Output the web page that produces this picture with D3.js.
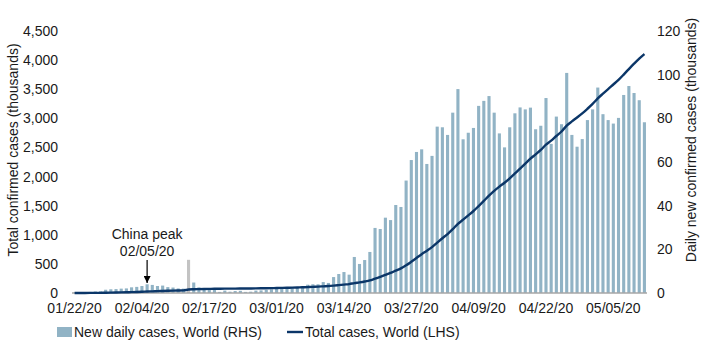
<!DOCTYPE html>
<html><head><meta charset="utf-8">
<script src="https://cdn.jsdelivr.net/npm/d3@7"></script>
<style>
html,body{margin:0;padding:0;background:#fff;}
text{font-family:"Liberation Sans",Arial,sans-serif;}
</style></head>
<body><svg id="c" width="701" height="360"></svg>
<script>
// Categories: daily dates 01/22/20 .. 05/11/20
const dates = d3.timeDay.range(new Date(2020,0,22), new Date(2020,4,12));
const tickLabels = ["01/22/20","02/04/20","02/17/20","03/01/20","03/14/20","03/27/20","04/09/20","04/22/20","05/05/20"];
const leftTicks = [0,500,1000,1500,2000,2500,3000,3500,4000,4500];
const rightTicks = [0,20,40,60,80,100,120];
// New daily cases, World (thousands) - RHS
const dailyNew = [
 0.1,0.1,0.3,0.5,0.7,0.8,1.5,1.7,1.8,2.0,
 2.1,2.6,2.8,3.2,4.0,3.7,3.2,3.4,2.7,2.5,
 2.1,2.0,15.2,4.8,2.6,2.1,2.0,1.9,0.5,1.1,
 0.6,0.9,1.0,0.5,0.6,1.1,1.2,1.4,1.7,2.0,
 2.0,2.3,2.3,2.7,3.0,3.8,4.0,4.0,5.0,4.6,
 7.3,8.7,9.6,8.4,16.5,13.3,15.1,18.8,29.8,29.3,
 34.5,33.4,40.3,39.4,51.5,60.9,64.6,65.8,59.1,62.8,
 76.2,75.9,72.4,82.6,93.4,70.4,73.4,75.6,85.7,88.0,
 90.2,82.6,73.1,66.7,75.9,82.3,85.0,84.1,84.9,75.0,
 76.6,89.3,68.3,80.8,77.3,100.8,72.4,67.0,70.5,79.2,
 84.1,94.1,81.9,79.2,77.6,80.2,90.7,94.8,91.6,88.3,
 78.2];
// Total cases, World (thousands) - LHS
const totalCases = [
 0.6,0.7,1.0,1.5,2.2,3.0,4.5,6.2,8.0,10.0,
 12.1,14.7,17.5,20.7,24.7,28.4,31.6,35.0,37.7,40.2,
 42.3,44.3,59.5,64.3,66.9,69.0,71.0,72.9,73.4,74.5,
 75.1,76.0,77.0,77.5,78.1,79.2,80.4,81.8,83.5,85.5,
 87.5,89.8,92.1,94.8,97.8,101.6,105.6,109.6,114.6,119.2,
 126.5,135.2,144.8,153.2,169.7,183.0,198.1,216.9,246.7,276.0,
 310.5,343.9,384.2,423.6,475.1,536.0,600.6,666.4,725.5,788.3,
 864.5,940.4,1012.8,1095.4,1188.8,1259.2,1332.6,1408.2,1493.9,1581.9,
 1672.1,1754.7,1827.8,1894.5,1970.4,2052.7,2137.7,2221.8,2306.7,2381.7,
 2458.3,2547.6,2615.9,2696.7,2774.0,2874.8,2947.2,3014.2,3084.7,3163.9,
 3248.0,3342.1,3424.0,3503.2,3580.8,3661.0,3751.7,3846.5,3938.1,4026.4,
 4104.6];
const highlightDate = "02/13/20";
const annotDate = "02/05/20";

const fmt = d3.timeFormat("%m/%d/%y");
const cats = dates.map(fmt);
const svg = d3.select("#c");
const L = 72, R = 647, T = 31, B = 293;
const x = d3.scaleBand().domain(cats).range([L, R]).paddingInner(0.4).paddingOuter(0.2);
const yL = d3.scaleLinear().domain([0,4500]).range([B,T]);
const yR = d3.scaleLinear().domain([0,120]).range([B,T]);
const barCol = "#91b3c5", lineCol = "#0b3668", txt = "#1a1a1a";

// bars
svg.append("g").selectAll("rect").data(cats).join("rect")
  .attr("x", d => x(d))
  .attr("width", x.bandwidth())
  .attr("y", (d,i) => yR(dailyNew[i]))
  .attr("height", (d,i) => B - yR(dailyNew[i]))
  .attr("fill", d => d === highlightDate ? "#c3c3c3" : barCol);

// x axis
const xAxis = d3.axisBottom(x).tickValues(tickLabels).tickSize(0).tickPadding(10);
const gx = svg.append("g").attr("transform", `translate(0,${B})`).call(xAxis);
gx.select(".domain").remove();
gx.selectAll("text").attr("font-size", 14).attr("fill", txt).attr("font-family","Liberation Sans, Arial, sans-serif");
svg.append("line").attr("x1", L).attr("x2", R).attr("y1", B).attr("y2", B)
  .attr("stroke", "#a6a6a6").attr("stroke-width", 1.5);

// line
const line = d3.line().x((d,i) => x(cats[i]) + x.bandwidth()/2).y(d => yL(d)).curve(d3.curveMonotoneX);
svg.append("path").datum(totalCases).attr("d", line).attr("fill","none")
  .attr("stroke", lineCol).attr("stroke-width", 2.4);

// left axis
const gl = svg.append("g").attr("transform", `translate(${L-4},0)`)
  .call(d3.axisLeft(yL).tickValues(leftTicks).tickFormat(d3.format(",")).tickSize(0).tickPadding(10));
gl.select(".domain").remove();
gl.selectAll("text").attr("font-size", 14).attr("fill", txt).attr("font-family","Liberation Sans, Arial, sans-serif");

// right axis
const gr = svg.append("g").attr("transform", `translate(${R},0)`)
  .call(d3.axisRight(yR).tickValues(rightTicks).tickSize(0).tickPadding(10));
gr.select(".domain").remove();
gr.selectAll("text").attr("font-size", 14).attr("fill", txt).attr("font-family","Liberation Sans, Arial, sans-serif");

// axis titles
svg.append("text").attr("transform", "translate(18,150) rotate(-90)")
  .attr("text-anchor","middle").attr("font-size",14).attr("fill",txt)
  .text("Total confirmed cases (thousands)");
svg.append("text").attr("transform", "translate(696,140) rotate(-90)")
  .attr("text-anchor","middle").attr("font-size",14).attr("fill",txt)
  .text("Daily new confirmed cases (thousands)");

// annotation
const ax = x(annotDate) + x.bandwidth()/2;
svg.append("text").attr("x", ax).attr("y", 239).attr("text-anchor","middle")
  .attr("font-size",14).attr("fill",txt).text("China peak");
svg.append("text").attr("x", ax).attr("y", 256).attr("text-anchor","middle")
  .attr("font-size",14).attr("fill",txt).text(annotDate);
svg.append("defs").append("marker").attr("id","ah").attr("viewBox","0 0 10 10")
  .attr("refX",10).attr("refY",5).attr("markerWidth",7).attr("markerHeight",7)
  .attr("markerUnits","userSpaceOnUse").attr("orient","auto")
  .append("path").attr("d","M0,0L10,5L0,10z").attr("fill","#000");
svg.append("line").attr("x1", ax).attr("x2", ax).attr("y1", 260).attr("y2", 283)
  .attr("stroke","#000").attr("stroke-width",1.2).attr("marker-end","url(#ah)");

// legend
const lg = svg.append("g");
lg.append("rect").attr("x",57).attr("y",327).attr("width",15).attr("height",10).attr("fill",barCol);
lg.append("text").attr("x",74).attr("y",337).attr("font-size",14).attr("fill",txt)
  .text("New daily cases, World (RHS)");
lg.append("line").attr("x1",287).attr("x2",303).attr("y1",332).attr("y2",332)
  .attr("stroke",lineCol).attr("stroke-width",2.4);
lg.append("text").attr("x",305).attr("y",337).attr("font-size",14).attr("fill",txt)
  .text("Total cases, World (LHS)");
</script></body></html>
